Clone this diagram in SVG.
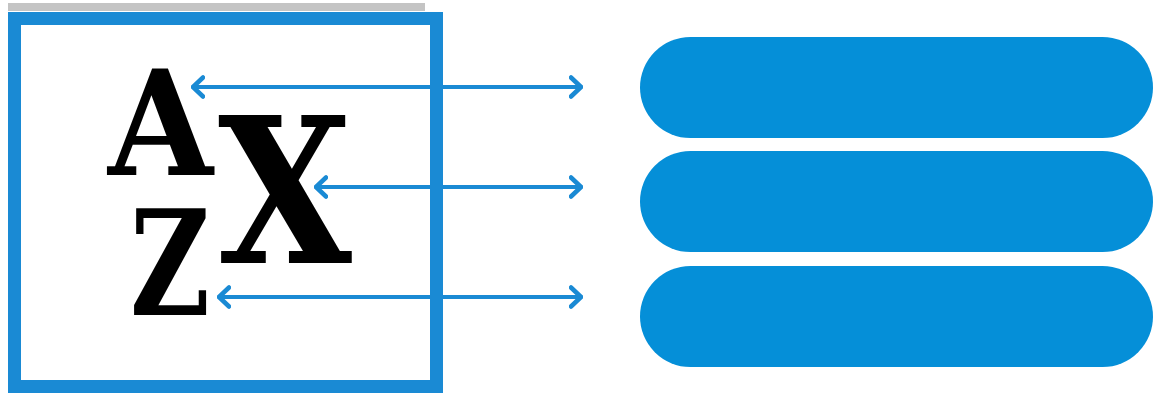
<svg xmlns="http://www.w3.org/2000/svg" width="1155" height="394" viewBox="0 0 1155 394">
<style>
.frame{fill:none;stroke:#1a8ad4;stroke-width:13}
.pill{fill:#058fd8}
.conn{stroke:#1a8ad4;stroke-width:4;fill:none;stroke-linecap:round}
.glyph{font-family:"DejaVu Serif","Liberation Serif",serif;font-weight:bold;fill:#000}
</style>
<defs>
<marker id="chev" viewBox="0 0 14 24" refX="12" refY="12" markerWidth="14" markerHeight="24" markerUnits="userSpaceOnUse" orient="auto-start-reverse">
<path d="M2,2.5 L12,12 L2,21.5" fill="none" stroke="#1a8ad4" stroke-width="4.5" stroke-linecap="round" stroke-linejoin="round"/>
</marker>
</defs>
<rect x="8" y="3" width="417" height="8" fill="#c4c4c4"/>
<g id="sort-box">
<rect class="frame" x="14.5" y="18.5" width="422" height="368"/>
<text class="glyph" x="108" y="175" font-size="146" textLength="105" lengthAdjust="spacingAndGlyphs">A</text>
<text class="glyph" x="130" y="315" font-size="146" textLength="80" lengthAdjust="spacingAndGlyphs">Z</text>
<text class="glyph" x="218" y="263" font-size="202" textLength="134" lengthAdjust="spacingAndGlyphs">X</text>
</g>
<g id="item-1"><rect class="pill" x="640" y="37" width="513" height="101" rx="50.5"/></g>
<g id="item-2"><rect class="pill" x="640" y="151" width="513" height="101" rx="50.5"/></g>
<g id="item-3"><rect class="pill" x="640" y="266" width="513" height="101" rx="50.5"/></g>
<g id="connectors">
<line class="conn" x1="193" y1="87" x2="581" y2="87" marker-start="url(#chev)" marker-end="url(#chev)"/>
<line class="conn" x1="316" y1="187" x2="581" y2="187" marker-start="url(#chev)" marker-end="url(#chev)"/>
<line class="conn" x1="219" y1="297" x2="581" y2="297" marker-start="url(#chev)" marker-end="url(#chev)"/>
</g>
</svg>
